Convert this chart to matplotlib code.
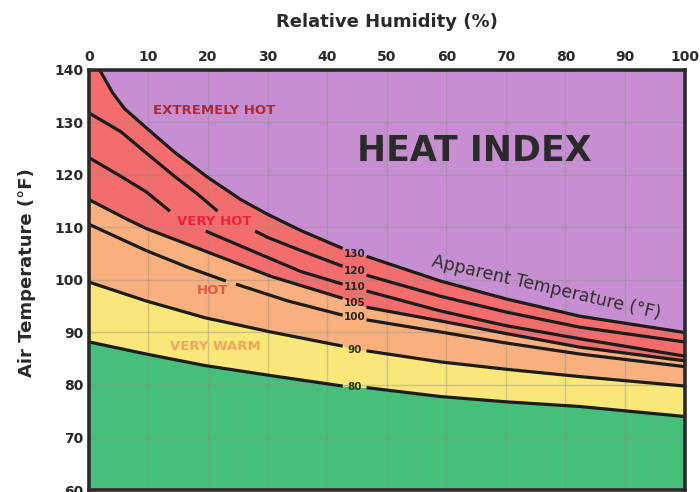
import numpy as np
import matplotlib
matplotlib.use("Agg")
import matplotlib.pyplot as plt

# Data: heat index contours (apparent temperature)
x130 = [0, 1.8, 4.0, 6.0, 9.6, 14.4, 20.0, 25.5, 30.0, 35.6, 42.6, 46.6, 59, 70, 82.4, 100]
t130 = [143.8, 140, 135.6, 132.6, 129.0, 124.3, 119.5, 115.3, 112.5, 109.4, 106.0, 104.5, 99.8, 96.4, 93.1, 90.0]

x120 = [0, 5.4, 9.6, 14.4, 18.3, 21.6, 27.9, 30, 35.6, 42.6, 46.6, 59, 70, 82.4, 100]
t120 = [131.8, 128.2, 124.2, 119.7, 116.3, 113.1, 109.3, 108.1, 105.6, 102.6, 100.9, 96.9, 93.9, 91.0, 88.2]

x110 = [0, 5.4, 9.6, 13.6, 19.6, 27.9, 35.6, 42.6, 46.6, 59, 70, 82.4, 100]
t110 = [123.3, 119.7, 116.8, 113.1, 109.3, 105.3, 101.6, 99.2, 97.9, 94.1, 91.3, 88.8, 85.5]

x105 = [0, 6.5, 9.6, 19.5, 30.5, 42.6, 46.6, 59, 70, 82.4, 100]
t105 = [115.3, 111.5, 109.8, 105.5, 100.7, 96.5, 94.8, 92.2, 89.8, 87.2, 84.6]

x100 = [0, 9.6, 16.6, 23.0, 24.7, 33.4, 42.6, 46.6, 59, 70, 82.4, 100]
t100 = [110.6, 105.6, 102.4, 99.8, 99.2, 96.0, 93.3, 92.4, 90.1, 88.0, 85.9, 83.5]

x90 = [0, 9.6, 19.5, 30.5, 42.6, 46.6, 59, 70, 82.4, 100]
t90 = [99.6, 96.0, 92.8, 90.1, 87.4, 86.5, 84.4, 83.0, 81.6, 79.8]

x80 = [0, 9.6, 19.5, 30.5, 42.6, 46.6, 59, 70, 82.4, 100]
t80 = [88.2, 85.9, 83.7, 81.8, 79.8, 79.5, 77.8, 76.8, 75.9, 74.0]

# breaks in the black lines (where a label sits)
gaps_130 = [(42.6, 46.6)]
gaps_120 = [(21.6, 27.9), (42.6, 46.6)]
gaps_110 = [(13.6, 19.6), (42.6, 46.6)]
gaps_105 = [(42.6, 46.6)]
gaps_100 = [(23.0, 24.7), (42.6, 46.6)]
gaps_90 = [(42.6, 46.6)]
gaps_80 = [(42.6, 46.6)]

contour_labels = ["130", "120", "110", "105", "100", "90", "80"]
label_temps = [104.9, 101.7, 98.6, 95.6, 92.9, 86.7, 79.7]

x_ticks = list(range(0, 101, 10))
y_ticks = list(range(60, 141, 10))

# colours
c_purple = "#c78fd2"
c_red = "#f26d6c"
c_orange = "#f8b07f"
c_yellow = "#f9e77a"
c_green = "#46bf7b"

fig = plt.figure(figsize=(7, 4.92), dpi=100)
ax = fig.add_axes([0.127, 0.004, 0.851, 0.854])
ax.set_facecolor(c_purple)

# coloured bands, layered from the top down
ax.fill_between(x130, t130, 60, color=c_red, lw=0, zorder=1)
ax.fill_between(x105, t105, 60, color=c_orange, lw=0, zorder=1)
ax.fill_between(x90, t90, 60, color=c_yellow, lw=0, zorder=1)
ax.fill_between(x80, t80, 60, color=c_green, lw=0, zorder=1)

ax.grid(True, color="#8c8c8c", alpha=0.4, lw=1, zorder=2)
ax.set_axisbelow(False)


def draw_line(xs, ys, gaps):
    start = 0
    for a, b in gaps:
        i = xs.index(a)
        j = xs.index(b)
        ax.plot(xs[start:i + 1], ys[start:i + 1], color="#1c1c1c", lw=2.3,
                solid_capstyle="butt", solid_joinstyle="round", zorder=3)
        start = j
    ax.plot(xs[start:], ys[start:], color="#1c1c1c", lw=2.3,
            solid_capstyle="butt", solid_joinstyle="round", zorder=3)


draw_line(x130, t130, gaps_130)
draw_line(x120, t120, gaps_120)
draw_line(x110, t110, gaps_110)
draw_line(x105, t105, gaps_105)
draw_line(x100, t100, gaps_100)
draw_line(x90, t90, gaps_90)
draw_line(x80, t80, gaps_80)

for lab, t in zip(contour_labels, label_temps):
    col = "#2b3a22" if lab in ("90", "80") else "#262626"
    ax.text(44.6, t, lab, fontsize=7.5, fontweight="bold", color=col,
            ha="center", va="center", zorder=4)

# zone names
ax.text(21.0, 132.2, "EXTREMELY HOT", fontsize=9.5, fontweight="bold",
        color="#a82a3a", ha="center", va="center", zorder=4)
ax.text(21.0, 111.2, "VERY HOT", fontsize=9.5, fontweight="bold",
        color="#f0203a", ha="center", va="center", zorder=4)
ax.text(20.8, 97.9, "HOT", fontsize=9.5, fontweight="bold",
        color="#e05a44", ha="center", va="center", zorder=4)
ax.text(21.3, 87.4, "VERY WARM", fontsize=9.5, fontweight="bold",
        color="#f2a35e", ha="center", va="center", zorder=4)

ax.text(64.7, 124.6, "HEAT INDEX", fontsize=25, fontweight="bold",
        color="#2a2a2a", ha="center", va="center", zorder=4)
ax.text(76.8, 98.6, "Apparent Temperature (°F)", fontsize=12.5,
        color="#2e2e2e", ha="center", va="center", rotation=-13, zorder=4)

ax.set_xlim(0, 100)
ax.set_ylim(60, 140)
ax.set_xticks(x_ticks)
ax.set_yticks(y_ticks)
ax.xaxis.tick_top()
ax.tick_params(axis="both", length=0, labelsize=10, colors="#2a2a2a")
ax.tick_params(axis="x", pad=4)
ax.tick_params(axis="y", pad=4)
for lbl in ax.get_xticklabels() + ax.get_yticklabels():
    lbl.set_fontweight("bold")

for sp in ax.spines.values():
    sp.set_linewidth(2.6)
    sp.set_color("#2a2a2a")
    sp.set_zorder(5)

fig.text(0.553, 1 - 22 / 492, "Relative Humidity (%)", fontsize=13,
         fontweight="bold", color="#2a2a2a", ha="center", va="center")
fig.text(0.039, 1 - 273 / 492, "Air Temperature (°F)", fontsize=13,
         fontweight="bold", color="#2a2a2a", ha="center", va="center",
         rotation=90)

fig.savefig("out.png", dpi=100)
